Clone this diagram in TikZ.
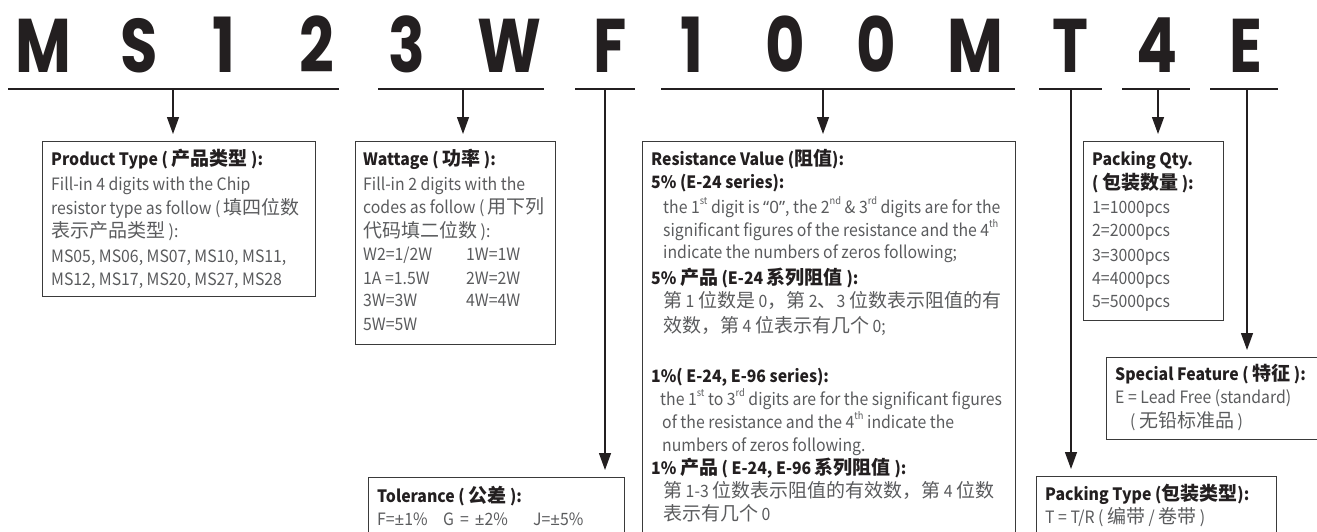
\documentclass[tikz,border=0pt]{standalone}
\usepackage{fontspec}
\usetikzlibrary{arrows.meta}
\setmainfont{Noto Sans CJK SC}[FakeStretch=0.93]
\newfontfamily\cjk{Noto Sans CJK SC}
\newfontfamily\codefont{Poppins}[FakeStretch=0.8]
\newfontfamily\qfont{Noto Sans}
\definecolor{txt}{HTML}{5A5B5D}
\definecolor{ink}{HTML}{231F20}
\definecolor{frame}{HTML}{3A3A3A}
\newcommand\zh[1]{{\cjk\fontsize{19}{23}\selectfont#1}}
\newcommand\sps[1]{\raise0.5em\hbox{\fontsize{10}{12}\selectfont #1}}
\begin{document}
\begin{tikzpicture}[x=1pt,y=-1pt,
  box/.style={draw=frame, line width=1.3pt, inner sep=0pt, anchor=north west},
  code/.style={anchor=base, inner sep=0pt, text=ink, font=\codefont\bfseries\fontsize{76}{76}\selectfont},
  uline/.style={draw=ink, line width=1.8pt},
  arr/.style={draw=ink, line width=1.3pt, -{Triangle[width=12pt,length=17pt]}, shorten >=7pt},
  ln/.style={anchor=base west, inner sep=0pt, text=txt, font=\fontsize{17}{21}\selectfont},
  hl/.style={anchor=base west, inner sep=0pt, text=ink, font=\fontsize{17}{21}\selectfont\bfseries},
]
\path[use as bounding box] (0,0) rectangle (1317,531);
\clip (0,0) rectangle (1317,531);

% code letters
\node[code] (l1) at (43,72) {M};
\node[code] (l2) at (139,72) {S};
\node[code] (l3) at (224,72) {1};
\node[code] (l4) at (317,72) {2};
\node[code] (l5) at (407,72) {3};
\node[code] (l6) at (509,72) {W};
\node[code] (l7) at (610,72) {F};
\node[code] (l8) at (692,72) {1};
\node[code] (l9) at (785,72) {0};
\node[code] (l10) at (876,72) {0};
\node[code] (l11) at (975,72) {M};
\node[code] (l12) at (1070,72) {T};
\node[code] (l13) at (1157,72) {4};
\node[code] (l14) at (1246,72) {E};

% underlines
\coordinate (u1a) at (8,89);   \coordinate (u1b) at (339,89);  \coordinate (s1) at (173,89);
\coordinate (u2a) at (378,89); \coordinate (u2b) at (544,89);  \coordinate (s2) at (463,89);
\coordinate (u3a) at (575,89); \coordinate (u3b) at (635,89);  \coordinate (s3) at (605,89);
\coordinate (u4a) at (661,89); \coordinate (u4b) at (1015,89); \coordinate (s4) at (823,89);
\coordinate (u5a) at (1039,89);\coordinate (u5b) at (1102,89); \coordinate (s5) at (1071,89);
\coordinate (u6a) at (1122,89);\coordinate (u6b) at (1190,89); \coordinate (s6) at (1158,89);
\coordinate (u7a) at (1210,89);\coordinate (u7b) at (1278,89); \coordinate (s7) at (1247,89);
\foreach \i in {1,...,7}{\draw[uline] (u\i a) -- (u\i b);}

% boxes
\node[box, minimum width=273pt, minimum height=155pt] (b1) at (42,141) {};
\node[box, minimum width=200pt, minimum height=203pt] (b2) at (355,141) {};
\node[box, minimum width=373pt, minimum height=420pt] (b3) at (642,141) {};
\node[box, minimum width=140pt, minimum height=179pt] (b4) at (1083,141) {};
\node[box, minimum width=250pt, minimum height=82pt] (b5) at (1106,357) {};
\node[box, minimum width=256pt, minimum height=100pt] (b6) at (368,477) {};
\node[box, minimum width=240pt, minimum height=100pt] (b7) at (1036,476) {};

% arrows
\draw[arr] (s1) -- (s1 |- b1.north);
\draw[arr] (s2) -- (s2 |- b2.north);
\draw[arr] (s3) -- (s3 |- b6.north);
\draw[arr] (s4) -- (s4 |- b3.north);
\draw[arr] (s5) -- (s5 |- b7.north);
\draw[arr] (s6) -- (s6 |- b4.north);
\draw[arr] (s7) -- (s7 |- b5.north);

% Product Type
\node[hl] (p1) at (51,165) {Product Type ( \zh{产品类型} ):};
\node[ln] (p2) at (51,190) {Fill-in 4 digits with the Chip};
\node[ln] (p3) at (51,214) {resistor type as follow ( \zh{填四位数}};
\node[ln] (p4) at (51,237) {\zh{表示产品类型} ):};
\node[ln] (p5) at (51,262) {MS05, MS06, MS07, MS10, MS11,};
\node[ln] (p6) at (51,285) {MS12, MS17, MS20, MS27, MS28};

% Wattage
\node[hl] (w1) at (363,165) {Wattage ( \zh{功率} ):};
\node[ln] (w2) at (363,190) {Fill-in 2 digits with the};
\node[ln] (w3) at (363,213) {codes as follow ( \zh{用下列}};
\node[ln] (w4) at (363,237) {\zh{代码填二位数} ):};
\node[ln] (w5) at (363,260) {W2=1/2W};
\node[ln] (w6) at (466,260) {1W=1W};
\node[ln] (w7) at (363,284) {1A =1.5W};
\node[ln] (w8) at (466,284) {2W=2W};
\node[ln] (w9) at (363,306) {3W=3W};
\node[ln] (w10) at (466,306) {4W=4W};
\node[ln] (w11) at (363,330) {5W=5W};

% Resistance Value
\node[hl] (r1) at (651,165) {Resistance Value (\zh{阻值}):};
\node[hl] (r2) at (651,188) {5\% (E-24 series):};
\node[ln] (r3) at (663,213) {the 1\sps{st} digit is {\qfont “0”}, the 2\sps{nd} \& 3\sps{rd} digits are for the};
\node[ln] (r4) at (663,236) {significant figures of the resistance and the 4\sps{th}};
\node[ln] (r5) at (663,258) {indicate the numbers of zeros following;};
\node[hl] (r6) at (651,284) {5\% \zh{产品} (E-24 \zh{系列阻值} ):};
\node[ln] (r7) at (663,307) {\zh{第} 1 \zh{位数是} 0\zh{，第} 2\zh{、}3 \zh{位数表示阻值的有}};
\node[ln] (r8) at (663,332) {\zh{效数，第} 4 \zh{位表示有几个} 0;};
\node[hl] (r9) at (651,382) {1\%( E-24, E-96 series):};
\node[ln] (r10) at (660,405) {the 1\sps{st} to 3\sps{rd} digits are for the significant figures};
\node[ln] (r11) at (662,428) {of the resistance and the 4\sps{th} indicate the};
\node[ln] (r12) at (662,451) {numbers of zeros following.};
\node[hl] (r13) at (651,474) {1\% \zh{产品} ( E-24, E-96 \zh{系列阻值} ):};
\node[ln] (r14) at (663,497) {\zh{第} 1-3 \zh{位数表示阻值的有效数，第} 4 \zh{位数}};
\node[ln] (r15) at (663,520) {\zh{表示有几个} 0};

% Packing Qty
\node[hl] (q1) at (1092,165) {Packing Qty.};
\node[hl] (q2) at (1092,189) {( \zh{包装数量} ):};
\node[ln] (q3) at (1092,213) {1=1000pcs};
\node[ln] (q4) at (1092,236) {2=2000pcs};
\node[ln] (q5) at (1092,261) {3=3000pcs};
\node[ln] (q6) at (1092,284) {4=4000pcs};
\node[ln] (q7) at (1092,307) {5=5000pcs};

% Special Feature
\node[hl] (f1) at (1115,380) {Special Feature ( \zh{特征} ):};
\node[ln] (f2) at (1115,403) {E = Lead Free (standard)};
\node[ln] (f3) at (1130,427) {( \zh{无铅标准品} )};

% Tolerance
\node[hl] (o1) at (377,502) {Tolerance ( \zh{公差} ):};
\node[ln] (o2) at (377,525) {\makebox[66pt][l]{F={\qfont ±}1\%}\makebox[90pt][l]{G\hspace{6pt}=\hspace{6pt}{\qfont ±}2\%}J={\qfont ±}5\%};

% Packing Type
\node[hl] (k1) at (1045,500) {Packing Type (\zh{包装类型}):};
\node[ln] (k2) at (1045,523) {T = T/R ( \zh{编带} / \zh{卷带} )};
\end{tikzpicture}
\end{document}
